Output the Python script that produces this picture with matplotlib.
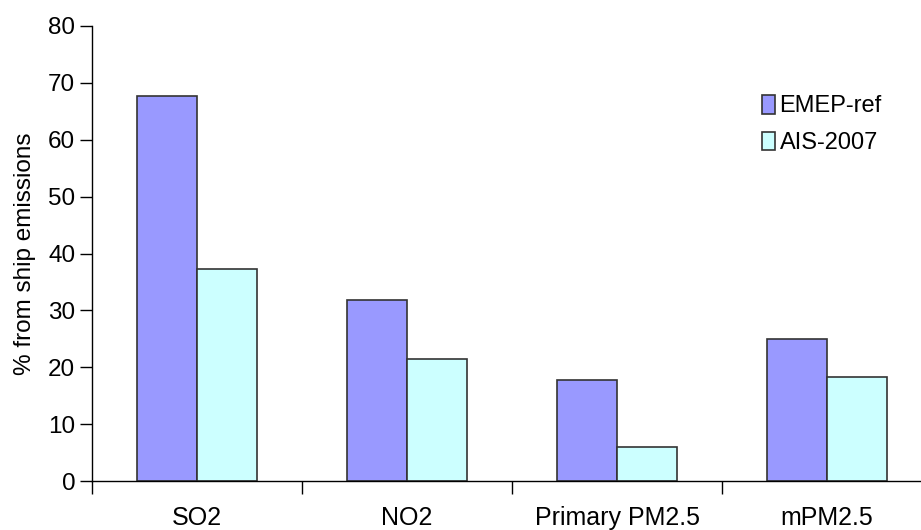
import numpy as np
import matplotlib.pyplot as plt

plt.rcParams["font.family"] = ["Liberation Sans", "DejaVu Sans"]

categories = ["SO2", "NO2", "Primary PM2.5", "mPM2.5"]
emep_ref = [67.7, 31.9, 17.7, 24.9]
ais_2007 = [37.2, 21.5, 5.9, 18.3]

fig = plt.figure(figsize=(9.21, 5.30), dpi=100)
# plot area runs past the right edge of the figure
ax = fig.add_axes([92 / 921, 1 - 481 / 530, 840 / 921, 455 / 530])

x = np.arange(len(categories))
width = 60 / 210
ax.bar(x - width / 2, emep_ref, width, color="#9999FF", edgecolor="#333333",
       linewidth=1.2, label="EMEP-ref")
ax.bar(x + width / 2, ais_2007, width, color="#CCFFFF", edgecolor="#333333",
       linewidth=1.2, label="AIS-2007")

ax.set_xlim(-0.5, len(categories) - 0.5)
ax.set_ylim(0, 80)
ax.set_yticks(np.arange(0, 81, 10))

# boundary ticks between categories, labels centred in each slot
ax.set_xticks(np.arange(len(categories) + 1) - 0.5)
ax.set_xticklabels([])
ax.set_xticks(x, minor=True)
ax.set_xticklabels(categories, minor=True, fontsize=18)
ax.tick_params(axis="x", which="major", length=9, width=1, direction="out")
ax.tick_params(axis="x", which="minor", length=0, pad=18)
ax.tick_params(axis="y", length=9, width=1, labelsize=17.5, pad=3)

ax.spines["top"].set_visible(False)
ax.spines["right"].set_visible(False)
ax.spines["left"].set_linewidth(1)
ax.spines["bottom"].set_linewidth(1)

ax.set_ylabel("% from ship emissions", fontsize=17.5, labelpad=9)

ax.legend(loc="upper left", bbox_to_anchor=(750 / 921, 1 - 83 / 530),
          bbox_transform=fig.transFigure, frameon=False, fontsize=17,
          handlelength=0.55, handleheight=0.85, handletextpad=0.2,
          labelspacing=0.6, borderpad=0)

fig.savefig("out.png", dpi=100)
